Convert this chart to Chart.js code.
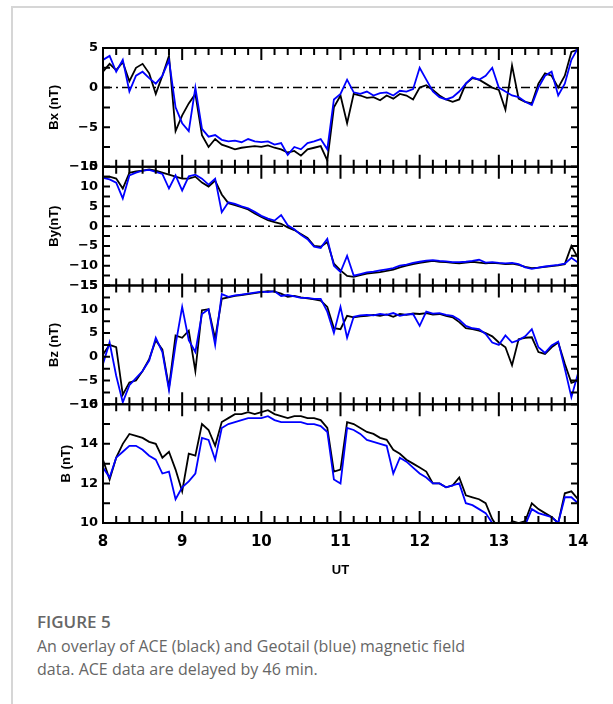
<!DOCTYPE html>
<html>
<head>
<meta charset="utf-8">
<script src="https://cdn.jsdelivr.net/npm/chart.js@4.4.0/dist/chart.umd.min.js"></script>
<style>
  html, body { margin: 0; padding: 0; background: #fff; }
  body { width: 613px; height: 704px; position: relative; overflow: hidden; }
  .box { position: absolute; left: 11px; top: 6px; width: 620px; height: 720px;
         border-top: 2px solid #d6d6d6; border-left: 2px solid #d6d6d6; }
  #plot { position: absolute; left: 0; top: 0; }
  .fig-num { position: absolute; left: 37px; top: 610px; font: 600 17px "Open Sans", sans-serif; color: #666; }
  .fig-text { position: absolute; left: 37px; top: 635px; font: 400 16px/23px "Open Sans", sans-serif; color: #666; }
</style>
</head>
<body>
<div class="box"></div>
<canvas id="plot" width="613" height="600"></canvas>
<div class="fig-num">FIGURE 5</div>
<div class="fig-text">An overlay of ACE (black) and Geotail (blue) magnetic field<br>data. ACE data are delayed by 46 min.</div>
<script>
// minutes after 08:00 UT
const utMinutes = [
  0, 5, 10, 15, 20, 25, 30, 35, 40, 45, 50, 55,
  60, 65, 70, 75, 80, 85, 90, 95, 100, 105, 110, 115,
  120, 125, 130, 135, 140, 145, 150, 155, 160, 165, 170, 175,
  180, 185, 190, 195, 200, 205, 210, 215, 220, 225, 230, 235,
  240, 245, 250, 255, 260, 265, 270, 275, 280, 285, 290, 295,
  300, 305, 310, 315, 320, 325, 330, 335, 340, 345, 350, 355, 360
];
const hourTicks = [8, 9, 10, 11, 12, 13, 14];

// ACE (black) and Geotail (blue), nT
const bxAce = [
  2.0, 3.0, 2.2, 3.2, 0.8, 2.5, 3.0, 1.8, -0.8, 1.5, 4.0, -5.5,
  -3.5, -2.0, -0.8, -6.0, -7.5, -6.5, -7.2, -7.5, -7.8, -7.6, -7.5, -7.4,
  -7.5, -7.3, -7.6, -7.8, -8.2, -8.0, -8.6, -7.8, -7.6, -7.4, -9.2, -2.5,
  -1.0, -4.5, -0.8, -1.0, -1.3, -1.2, -1.6, -1.0, -1.4, -0.8, -1.0, -1.5,
  0.0, 0.3, -0.3, -1.0, -1.5, -1.8, -1.5, 0.5, 1.2, 1.0, 0.5, 0.0,
  -0.3, -2.8, 2.8, -1.4, -1.8, -2.0, 0.5, 1.8, 1.5, 0.0, 1.5, 4.5, 4.8
];
const bxGeo = [
  3.5, 4.0, 2.0, 3.5, -0.5, 1.5, 2.0, 1.2, 0.5, 1.5, 3.5, -2.5,
  -4.5, -5.5, 0.0, -5.2, -6.2, -6.0, -6.6, -6.8, -6.7, -6.9, -6.5, -6.8,
  -6.9, -6.8, -7.2, -7.0, -8.5, -7.5, -7.8, -7.0, -6.8, -6.5, -7.8, -1.5,
  -0.8, 1.0, -0.6, -0.8, -0.5, -1.0, -0.7, -0.6, -1.0, -0.4, -0.5, -0.2,
  2.5, 1.0, -0.5, -1.2, -1.5, -1.2, -0.5, 0.5, 1.3, 1.0, 1.5, 2.5,
  0.0, -0.5, -1.0, -1.2, -1.8, -2.2, 0.0, 1.5, 2.0, -1.0, 0.5, 3.5, 5.0
];
const byAce = [
  12.5, 12.5, 12.0, 9.5, 13.5, 13.8, 14.0, 14.3, 14.0, 13.5, 13.0, 12.5,
  12.0, 12.0, 12.5, 11.0, 10.0, 11.5, 8.0, 5.8, 5.3, 4.8, 4.2, 3.2,
  2.3, 1.5, 1.0, 0.6, -0.3, -1.0, -2.0, -3.0, -5.0, -5.2, -4.0, -9.5,
  -11.2, -12.6, -12.8, -12.4, -12.0, -11.8, -11.6, -11.3, -11.0, -10.4, -10.0, -9.6,
  -9.3, -9.0, -8.8, -9.0, -9.1, -9.3, -9.4, -9.2, -9.0, -9.2, -9.4, -9.3,
  -9.4, -9.6, -9.5, -9.8, -10.3, -10.6, -10.5, -10.3, -10.1, -9.9, -9.6, -5.0, -8.0
];
const byGeo = [
  12.2, 11.8, 11.0, 7.0, 12.8, 13.5, 14.0, 14.2, 13.7, 13.2, 9.5, 12.8,
  9.0, 12.6, 13.0, 12.0, 10.5, 12.0, 3.5, 6.0, 5.6, 5.0, 4.5, 3.6,
  2.6, 1.9, 1.4, 2.8, 0.2, -0.8, -2.2, -3.3, -5.2, -5.5, -3.2, -10.0,
  -11.6, -7.5, -12.5, -12.1, -11.7, -11.5, -11.2, -10.9, -10.6, -10.0, -9.7, -9.3,
  -9.0, -8.7, -8.6, -8.8, -8.9, -9.1, -9.1, -9.0, -8.8, -8.5, -9.2, -9.1,
  -9.3, -9.4, -9.3, -9.6, -10.4, -10.8, -10.5, -10.2, -10.0, -9.8, -9.5, -8.0, -9.2
];
const bzAce = [
  0.5, 2.5, 2.0, -8.0, -5.4, -5.0, -3.0, -0.5, 3.5, 1.5, -6.5, 4.5,
  4.0, 5.5, -3.0, 9.8, 10.0, 3.8, 12.2, 12.5, 12.8, 13.0, 13.2, 13.4,
  13.6, 13.8, 13.7, 13.3, 12.6, 12.8, 12.5, 12.3, 12.1, 11.8, 10.5, 6.0,
  5.8, 8.6, 8.3, 8.5, 8.6, 8.8, 8.6, 8.9, 8.4, 9.0, 8.8, 9.1,
  9.0, 9.2, 8.9, 9.0, 8.6, 8.3, 7.3, 6.0, 5.8, 5.5, 5.0, 4.3,
  3.0, 2.0, -1.8, 3.7, 4.0, 4.1, 1.0, 0.6, 2.0, 3.0, -1.5, -5.5, -5.0
];
const bzGeo = [
  -1.5, 3.0, -4.0, -9.6, -6.0, -4.5, -3.0, -0.8, 4.0, 1.0, -7.0, 2.5,
  10.5, 3.5, 1.0, 9.0, 10.0, 2.5, 13.2, 12.6, 12.9, 13.1, 13.3, 13.5,
  13.7, 13.6, 13.8, 12.8, 13.0, 12.7, 12.4, 12.4, 12.2, 12.2, 9.5, 5.0,
  10.5, 4.0, 8.4, 8.7, 8.8, 8.7, 9.0, 8.8, 9.2, 8.6, 8.9, 9.0,
  6.5, 9.5, 9.1, 9.2, 8.8, 8.6, 7.8, 6.5, 6.0, 5.8, 4.8, 3.0,
  2.5, 4.5, 3.0, 3.5, 4.3, 5.8, 2.0, 0.8, 2.4, 3.2, -2.5, -8.5, -3.5
];
const bAce = [
  13.2, 12.2, 13.3, 14.0, 14.5, 14.4, 14.3, 14.1, 14.0, 13.3, 13.6, 12.7,
  11.6, 13.5, 13.4, 15.0, 14.7, 13.9, 15.1, 15.3, 15.5, 15.5, 15.6, 15.5,
  15.6, 15.7, 15.5, 15.4, 15.3, 15.4, 15.4, 15.3, 15.3, 15.2, 14.8, 12.6,
  12.7, 15.1, 15.0, 14.8, 14.6, 14.5, 14.3, 14.2, 13.7, 13.5, 13.2, 13.0,
  12.8, 12.6, 12.0, 12.0, 11.8, 11.9, 12.3, 11.4, 11.3, 11.2, 11.0, 10.2,
  9.7, 9.5, 10.1, 10.0, 10.1, 11.0, 10.7, 10.5, 10.3, 10.0, 11.5, 11.6, 11.2
];
const bGeo = [
  12.8, 12.3, 13.3, 13.6, 13.9, 13.9, 13.7, 13.4, 13.2, 12.5, 12.6, 11.2,
  11.8, 12.1, 12.5, 14.3, 14.2, 13.2, 14.8, 15.0, 15.1, 15.2, 15.3, 15.3,
  15.3, 15.4, 15.2, 15.1, 15.1, 15.1, 15.1, 15.0, 15.0, 14.9, 14.6, 12.2,
  12.0, 14.8, 14.7, 14.5, 14.2, 14.1, 14.0, 13.9, 12.5, 13.3, 13.1, 12.8,
  12.5, 12.3, 12.0, 12.0, 11.8, 11.9, 12.0, 11.0, 10.9, 10.7, 10.5, 10.0,
  9.6, 9.4, 9.7, 9.8, 9.9, 10.7, 10.5, 10.4, 10.3, 10.0, 11.3, 11.3, 11.0
];

const bxTicks = [-10, -5, 0, 5];
const byTicks = [-15, -10, -5, 0, 5, 10, 15];
const bzTicks = [-10, -5, 0, 5, 10, 15];
const bTicks = [10, 12, 14, 16];

const ACE_COLOR = '#000000';
const GEO_COLOR = '#0000ff';
const TICK_FONT = { family: 'DejaVu Sans', size: 13, weight: 'bold' };
const TITLE_FONT = { family: 'Liberation Sans', size: 13, weight: 'bold' };

// panels top to bottom; minor = inner tick spacing on the y frame
const PANELS = [
  { id: 'yBx', minor: 2.5, zero: true },
  { id: 'yBy', minor: 2.5, zero: true },
  { id: 'yBz', minor: 2.5, zero: false },
  { id: 'yB', minor: 1, zero: false }
];

const toPoints = vals => vals.map((v, i) => ({ x: 8 + utMinutes[i] / 60, y: v }));

function trace(label, values, axis, color, order) {
  return {
    label,
    data: toPoints(values),
    yAxisID: axis,
    borderColor: color,
    borderWidth: 1.8,
    pointRadius: 0,
    tension: 0,
    order
  };
}

function panelAxis(title, min, max, tickList, titlePad) {
  return {
    type: 'linear',
    position: 'left',
    stack: 'panels',
    stackWeight: 1,
    min, max,
    grid: { display: false, drawTicks: false },
    border: { display: false },
    afterBuildTicks: s => { s.ticks = tickList.map(v => ({ value: v })); },
    afterFit: s => { s.width = 63; },
    ticks: {
      autoSkip: false,
      color: '#000',
      padding: 5,
      font: TICK_FONT,
      callback: v => String(v).replace('-', '\u2212')
    },
    title: {
      display: true,
      text: title,
      color: '#000',
      font: TITLE_FONT,
      padding: { top: titlePad, bottom: 0 }
    }
  };
}

// frame, inward ticks and dash-dot zero lines, all placed via the chart scales
const panelFrames = {
  id: 'panelFrames',
  beforeDatasetsDraw(chart) {
    const { ctx, chartArea: { left, right } } = chart;
    ctx.save();
    ctx.strokeStyle = '#000';
    ctx.lineWidth = 1.5;
    ctx.setLineDash([9, 4, 2, 4]);
    PANELS.filter(p => p.zero).forEach(p => {
      const y = chart.scales[p.id].getPixelForValue(0);
      ctx.beginPath();
      ctx.moveTo(left, y);
      ctx.lineTo(right, y);
      ctx.stroke();
    });
    ctx.restore();
  },
  afterDatasetsDraw(chart) {
    const { ctx, chartArea: { left, right } } = chart;
    const xs = chart.scales.x;
    ctx.save();
    ctx.strokeStyle = '#000';
    ctx.lineWidth = 2;
    PANELS.forEach(p => {
      const s = chart.scales[p.id];
      const top = s.top, bottom = s.bottom;
      ctx.beginPath();
      for (let m = 0; m <= 360; m += 10) {
        const px = xs.getPixelForValue(8 + m / 60);
        const len = m % 60 === 0 ? 12 : 7;
        ctx.moveTo(px, top); ctx.lineTo(px, top + len);
        ctx.moveTo(px, bottom); ctx.lineTo(px, bottom - len);
      }
      for (let v = s.min; v <= s.max + 1e-6; v += p.minor) {
        const py = s.getPixelForValue(v);
        ctx.moveTo(left, py); ctx.lineTo(left + 7, py);
        ctx.moveTo(right, py); ctx.lineTo(right - 7, py);
      }
      ctx.stroke();
      ctx.strokeRect(left, top, right - left, bottom - top);
    });
    ctx.restore();
  }
};

new Chart(document.getElementById('plot'), {
  type: 'line',
  data: {
    datasets: [
      trace('Bx Geotail', bxGeo, 'yBx', GEO_COLOR, 0),
      trace('Bx ACE', bxAce, 'yBx', ACE_COLOR, 1),
      trace('By Geotail', byGeo, 'yBy', GEO_COLOR, 0),
      trace('By ACE', byAce, 'yBy', ACE_COLOR, 1),
      trace('Bz Geotail', bzGeo, 'yBz', GEO_COLOR, 0),
      trace('Bz ACE', bzAce, 'yBz', ACE_COLOR, 1),
      trace('B Geotail', bGeo, 'yB', GEO_COLOR, 0),
      trace('B ACE', bAce, 'yB', ACE_COLOR, 1)
    ]
  },
  options: {
    responsive: false,
    animation: false,
    layout: { padding: { top: 48, right: 35, bottom: 7, left: 40 } },
    plugins: { legend: { display: false }, tooltip: { enabled: false } },
    scales: {
      x: {
        type: 'linear',
        min: 8, max: 14,
        grid: { display: false, drawTicks: false },
        border: { display: false },
        afterBuildTicks: s => { s.ticks = hourTicks.map(v => ({ value: v })); },
        afterFit: s => { s.height = 70; },
        ticks: { autoSkip: false, color: '#000', padding: 10, font: { family: 'DejaVu Sans', size: 15, weight: 'bold' } },
        title: { display: true, text: 'UT', color: '#000', font: TITLE_FONT, padding: { top: 0, bottom: 15 } }
      },
      yB: panelAxis('B (nT)', 10, 16, bTicks, 19),
      yBz: panelAxis('Bz (nT)', -10, 15, bzTicks, 7),
      yBy: panelAxis('By(nT)', -15, 15, byTicks, 7),
      yBx: panelAxis('Bx (nT)', -10, 5, bxTicks, 7)
    }
  },
  plugins: [panelFrames]
});
</script>
</body>
</html>
